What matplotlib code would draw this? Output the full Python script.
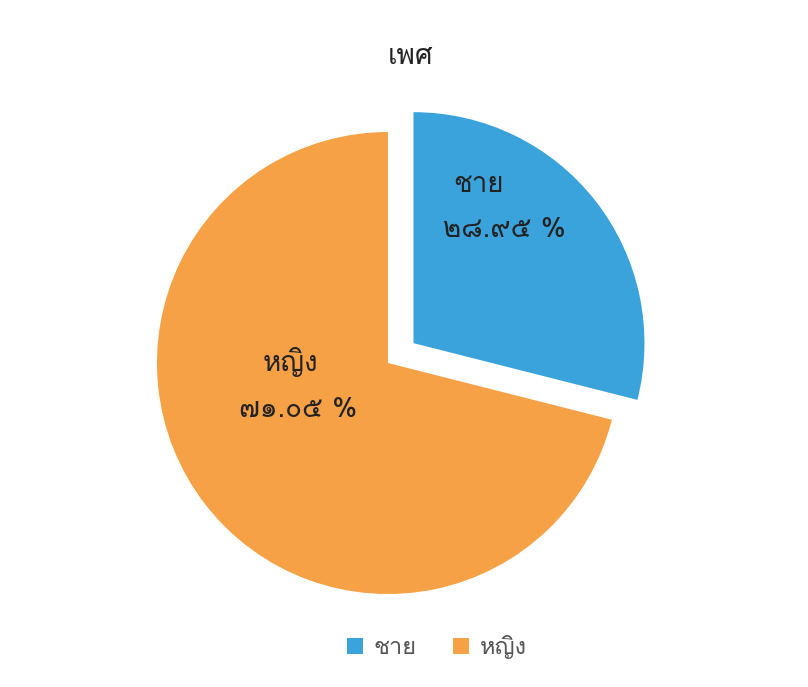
import matplotlib
matplotlib.use('Agg')
import matplotlib.pyplot as plt
from matplotlib import font_manager
from matplotlib.ft2font import FT2Font
from matplotlib.patches import Patch

# data
labels = ['ชาย', 'หญิง']
values = [28.95, 71.05]
pct_text = ['๒๘.๙๕ %', '๗๑.๐๕ %']
colors = ['#3BA3DB', '#F7A146']
title = 'เพศ'

# find a font that can draw Thai
thai_font = None
for fe in font_manager.fontManager.ttflist:
    try:
        cmap = FT2Font(fe.fname).get_charmap()
    except Exception:
        continue
    if 0x0E0A in cmap and 0x0E52 in cmap:
        thai_font = fe.name
        break
fams = ([thai_font] if thai_font else []) + ['DejaVu Sans']
plt.rcParams['font.family'] = fams

fig = plt.figure(figsize=(8.08, 6.87), dpi=100)
ax = fig.add_axes([0.1228, 0.0513, 0.7147, 0.8406])
ax.pie(values, colors=colors, startangle=90, counterclock=False,
       explode=[0.14, 0], radius=1)
ax.set_xlim(-1.25, 1.25)
ax.set_ylim(-1.25, 1.25)
ax.set_aspect('equal')

# label positions (data coords)
lab_pos = [(0.39, 0.77), (-0.424, 0.004)]
pct_pos = [(0.506, 0.576), (-0.39, -0.203)]
for i in range(len(labels)):
    ax.text(lab_pos[i][0], lab_pos[i][1], labels[i], ha='center', va='center',
            fontsize=20, color='#222222')
    ax.text(pct_pos[i][0], pct_pos[i][1], pct_text[i], ha='center', va='center',
            fontsize=20, color='#222222')

fig.text(410 / 808, 1 - 57 / 687, title, ha='center', va='center', fontsize=20,
         color='#222222')

handles = [Patch(facecolor=c, edgecolor='none') for c in colors]
fig.legend(handles, labels, loc='center', bbox_to_anchor=(437 / 808, 1 - 647 / 687),
           ncol=2, frameon=False, fontsize=17, handlelength=0.65, handleheight=0.65,
           columnspacing=1.55, handletextpad=0.47, labelcolor='#555555')

fig.savefig('out.png', dpi=100, facecolor='white')
